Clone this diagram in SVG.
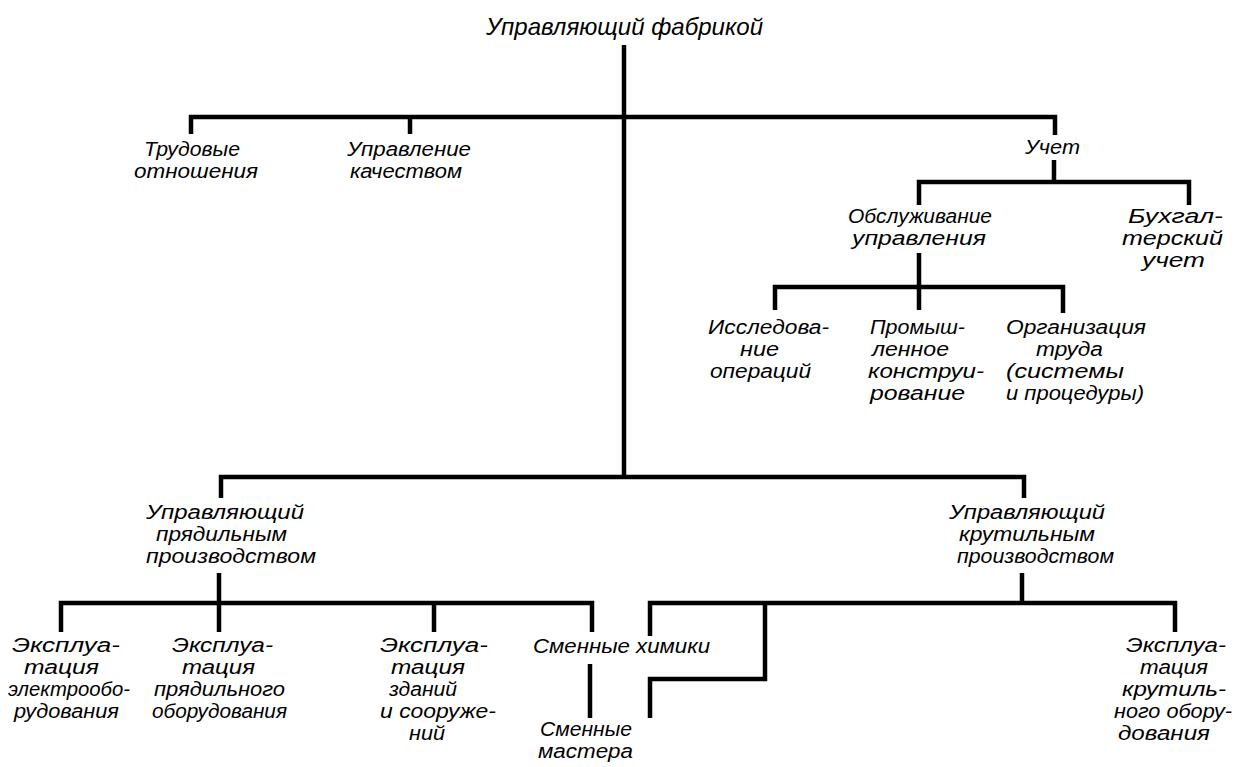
<svg xmlns="http://www.w3.org/2000/svg" width="1237" height="767" viewBox="0 0 1237 767">
  <style>
    .t { font-family: "Liberation Sans", "DejaVu Sans", sans-serif; font-style: italic; font-size: 19.5px; fill: #000; }
    .title { font-size: 24px; }
    .ln { fill: none; stroke: #000; stroke-width: 4.5; stroke-linejoin: miter; stroke-linecap: butt; }
  </style>
  <rect width="1237" height="767" fill="#fff"/>

  <!-- connectors -->
  <g id="connectors" class="ln">
    <path d="M624,45 V477"/>
    <path d="M191,134 V117 H1055 V135"/>
    <path d="M410,117 V134"/>
    <path d="M1054,160 V182"/>
    <path d="M919,205 V182 H1189 V205"/>
    <path d="M919,253 V310"/>
    <path d="M775,310 V287 H1063 V313"/>
    <path d="M221,498 V477 H1024 V498"/>
    <path d="M219,573 V632"/>
    <path d="M61,632 V603 H592 V632"/>
    <path d="M434,603 V632"/>
    <path d="M590,664 V718"/>
    <path d="M1022,573 V603"/>
    <path d="M650,636 V603 H1175 V632"/>
    <path d="M765,603 V679 H650 V718"/>
  </g>

  <g id="factory-manager">
    <text class="t title" x="486" y="35" textLength="277" lengthAdjust="spacingAndGlyphs">Управляющий фабрикой</text>
  </g>

  <g id="labour-relations">
    <text class="t" x="144" y="156" textLength="96" lengthAdjust="spacingAndGlyphs">Трудовые</text>
    <text class="t" x="134" y="178" textLength="124" lengthAdjust="spacingAndGlyphs">отношения</text>
  </g>

  <g id="quality-control">
    <text class="t" x="347" y="156" textLength="124" lengthAdjust="spacingAndGlyphs">Управление</text>
    <text class="t" x="350" y="178" textLength="112" lengthAdjust="spacingAndGlyphs">качеством</text>
  </g>

  <g id="accounting">
    <text class="t" x="1025" y="154" textLength="55" lengthAdjust="spacingAndGlyphs">Учет</text>
  </g>

  <g id="management-services">
    <text class="t" x="848" y="223" textLength="144" lengthAdjust="spacingAndGlyphs">Обслуживание</text>
    <text class="t" x="852" y="245" textLength="134" lengthAdjust="spacingAndGlyphs">управления</text>
  </g>

  <g id="bookkeeping">
    <text class="t" x="1128" y="223" textLength="95" lengthAdjust="spacingAndGlyphs">Бухгал-</text>
    <text class="t" x="1122" y="245" textLength="101" lengthAdjust="spacingAndGlyphs">терский</text>
    <text class="t" x="1142" y="267" textLength="63" lengthAdjust="spacingAndGlyphs">учет</text>
  </g>

  <g id="operations-research">
    <text class="t" x="708" y="334" textLength="121" lengthAdjust="spacingAndGlyphs">Исследова-</text>
    <text class="t" x="740" y="356" textLength="39" lengthAdjust="spacingAndGlyphs">ние</text>
    <text class="t" x="710" y="378" textLength="101" lengthAdjust="spacingAndGlyphs">операций</text>
  </g>

  <g id="industrial-engineering">
    <text class="t" x="870" y="334" textLength="95" lengthAdjust="spacingAndGlyphs">Промыш-</text>
    <text class="t" x="872" y="356" textLength="77" lengthAdjust="spacingAndGlyphs">ленное</text>
    <text class="t" x="868" y="378" textLength="116" lengthAdjust="spacingAndGlyphs">конструи-</text>
    <text class="t" x="870" y="400" textLength="95" lengthAdjust="spacingAndGlyphs">рование</text>
  </g>

  <g id="work-organization">
    <text class="t" x="1006" y="334" textLength="140" lengthAdjust="spacingAndGlyphs">Организация</text>
    <text class="t" x="1036" y="356" textLength="67" lengthAdjust="spacingAndGlyphs">труда</text>
    <text class="t" x="1006" y="378" textLength="118" lengthAdjust="spacingAndGlyphs">(системы</text>
    <text class="t" x="1006" y="400" textLength="138" lengthAdjust="spacingAndGlyphs">и процедуры)</text>
  </g>

  <g id="spinning-manager">
    <text class="t" x="146" y="519" textLength="158" lengthAdjust="spacingAndGlyphs">Управляющий</text>
    <text class="t" x="156" y="541" textLength="131" lengthAdjust="spacingAndGlyphs">прядильным</text>
    <text class="t" x="146" y="563" textLength="170" lengthAdjust="spacingAndGlyphs">производством</text>
  </g>

  <g id="twisting-manager">
    <text class="t" x="949" y="519" textLength="156" lengthAdjust="spacingAndGlyphs">Управляющий</text>
    <text class="t" x="959" y="541" textLength="136" lengthAdjust="spacingAndGlyphs">крутильным</text>
    <text class="t" x="957" y="563" textLength="157" lengthAdjust="spacingAndGlyphs">производством</text>
  </g>

  <g id="electrical-equipment">
    <text class="t" x="12" y="652" textLength="108" lengthAdjust="spacingAndGlyphs">Эксплуа-</text>
    <text class="t" x="24" y="674" textLength="75" lengthAdjust="spacingAndGlyphs">тация</text>
    <text class="t" x="8" y="696" textLength="122" lengthAdjust="spacingAndGlyphs">электрообо-</text>
    <text class="t" x="14" y="718" textLength="105" lengthAdjust="spacingAndGlyphs">рудования</text>
  </g>

  <g id="spinning-equipment">
    <text class="t" x="172" y="652" textLength="101" lengthAdjust="spacingAndGlyphs">Эксплуа-</text>
    <text class="t" x="182" y="674" textLength="73" lengthAdjust="spacingAndGlyphs">тация</text>
    <text class="t" x="154" y="696" textLength="131" lengthAdjust="spacingAndGlyphs">прядильного</text>
    <text class="t" x="152" y="718" textLength="135" lengthAdjust="spacingAndGlyphs">оборудования</text>
  </g>

  <g id="buildings">
    <text class="t" x="380" y="652" textLength="108" lengthAdjust="spacingAndGlyphs">Эксплуа-</text>
    <text class="t" x="391" y="674" textLength="74" lengthAdjust="spacingAndGlyphs">тация</text>
    <text class="t" x="389" y="696" textLength="68" lengthAdjust="spacingAndGlyphs">зданий</text>
    <text class="t" x="380" y="718" textLength="116" lengthAdjust="spacingAndGlyphs">и сооруже-</text>
    <text class="t" x="409" y="740" textLength="36" lengthAdjust="spacingAndGlyphs">ний</text>
  </g>

  <g id="shift-chemists">
    <text class="t" x="533" y="653" textLength="177" lengthAdjust="spacingAndGlyphs">Сменные химики</text>
  </g>

  <g id="shift-foremen">
    <text class="t" x="540" y="736" textLength="92" lengthAdjust="spacingAndGlyphs">Сменные</text>
    <text class="t" x="538" y="758" textLength="95" lengthAdjust="spacingAndGlyphs">мастера</text>
  </g>

  <g id="twisting-equipment">
    <text class="t" x="1126" y="652" textLength="100" lengthAdjust="spacingAndGlyphs">Эксплуа-</text>
    <text class="t" x="1140" y="674" textLength="68" lengthAdjust="spacingAndGlyphs">тация</text>
    <text class="t" x="1122" y="696" textLength="104" lengthAdjust="spacingAndGlyphs">крутиль-</text>
    <text class="t" x="1114" y="718" textLength="118" lengthAdjust="spacingAndGlyphs">ного обору-</text>
    <text class="t" x="1118" y="740" textLength="92" lengthAdjust="spacingAndGlyphs">дования</text>
  </g>
</svg>
